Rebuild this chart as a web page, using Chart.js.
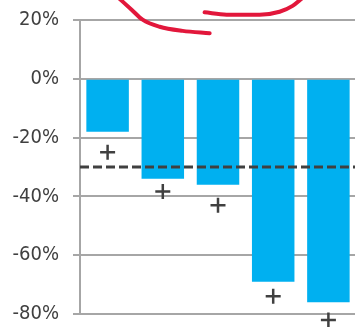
<!DOCTYPE html>
<html lang="en">
<head>
    <meta charset="UTF-8">
    <title>Change chart</title>
    <script src="https://cdn.jsdelivr.net/npm/chart.js"></script>
    <style>
        body {
            margin: 0;
            overflow: hidden;
            background: #fff;
        }
        #wrap {
            position: relative;
            width: 356px;
            height: 327px;
        }
    </style>
</head>
<body>
    <div id="wrap"><canvas id="chart"></canvas></div>
    <script>
        const categories = ['A', 'B', 'C', 'D', 'E'];
        const barValues = [-18, -34, -36, -69, -76];
        const markerValues = [-25, -38.3, -43, -74, -82];
        const targetValue = -30;
        const yTicks = [20, 0, -20, -40, -60, -80];
        // hand-drawn red strokes, in (category index, %) units
        const stroke1 = [
            { x: 0.20, y: 27.5 }, { x: 0.435, y: 23.5 }, { x: 0.634, y: 20.1 },
            { x: 0.942, y: 17.7 }, { x: 1.359, y: 16.3 }, { x: 1.848, y: 15.5 }
        ];
        const stroke2 = [
            { x: 1.757, y: 22.6 }, { x: 2.156, y: 21.8 }, { x: 2.754, y: 21.8 },
            { x: 3.116, y: 22.8 }, { x: 3.351, y: 24.8 }, { x: 3.53, y: 27.5 }
        ];

        const gridColor = '#a6a6a6';
        const textColor = '#404040';

        // dashed target line across the plot area
        const targetLine = {
            id: 'targetLine',
            afterDatasetsDraw(chart) {
                const { ctx, chartArea, scales } = chart;
                const y = scales.y.getPixelForValue(targetValue);
                ctx.save();
                ctx.strokeStyle = textColor;
                ctx.lineWidth = 3;
                ctx.setLineDash([9, 4]);
                ctx.beginPath();
                ctx.moveTo(chartArea.left, y);
                ctx.lineTo(chartArea.right, y);
                ctx.stroke();
                ctx.restore();
            }
        };

        const noPad = s => {
            s.paddingTop = 0; s.paddingBottom = 0;
            s.paddingLeft = 0; s.paddingRight = 0;
        };

        const redStroke = data => ({
            type: 'line',
            data: data,
            xAxisID: 'x2',
            borderColor: '#e2173b',
            borderWidth: 4,
            borderCapStyle: 'round',
            cubicInterpolationMode: 'monotone',
            pointRadius: 0,
            clip: false,
            order: 0
        });

        new Chart(document.getElementById('chart'), {
            type: 'bar',
            data: {
                labels: categories,
                datasets: [
                    {
                        type: 'bar',
                        data: barValues,
                        backgroundColor: '#00b0f0',
                        borderWidth: 0,
                        grouped: false,
                        barPercentage: 0.77,
                        categoryPercentage: 1,
                        order: 2
                    },
                    {
                        type: 'line',
                        data: markerValues,
                        showLine: false,
                        pointStyle: 'cross',
                        pointRadius: 7.5,
                        pointBorderWidth: 2.5,
                        borderColor: textColor,
                        backgroundColor: textColor,
                        clip: false,
                        order: 1
                    },
                    redStroke(stroke1),
                    redStroke(stroke2)
                ]
            },
            options: {
                responsive: true,
                maintainAspectRatio: false,
                animation: false,
                layout: { autoPadding: false, padding: { top: 20, bottom: 13, left: 0, right: 0 } },
                plugins: { legend: { display: false }, tooltip: { enabled: false } },
                scales: {
                    x: { display: false, offset: true, ticks: { display: false }, afterFit: noPad },
                    x2: { type: 'linear', display: false, offset: false, min: -0.5, max: 4.5, ticks: { display: false }, afterFit: noPad },
                    y: {
                        min: -80,
                        max: 20,
                        afterBuildTicks: s => { s.ticks = yTicks.map(v => ({ value: v })); },
                        afterFit: s => { noPad(s); s.width = 80; },
                        border: { display: true, color: gridColor, width: 2 },
                        grid: { color: gridColor, lineWidth: 2, tickLength: 7 },
                        ticks: {
                            padding: 14,
                            color: textColor,
                            font: { family: "'DejaVu Sans Condensed', sans-serif", size: 20 },
                            callback: v => v + '%'
                        }
                    }
                }
            },
            plugins: [targetLine]
        });
    </script>
</body>
</html>
